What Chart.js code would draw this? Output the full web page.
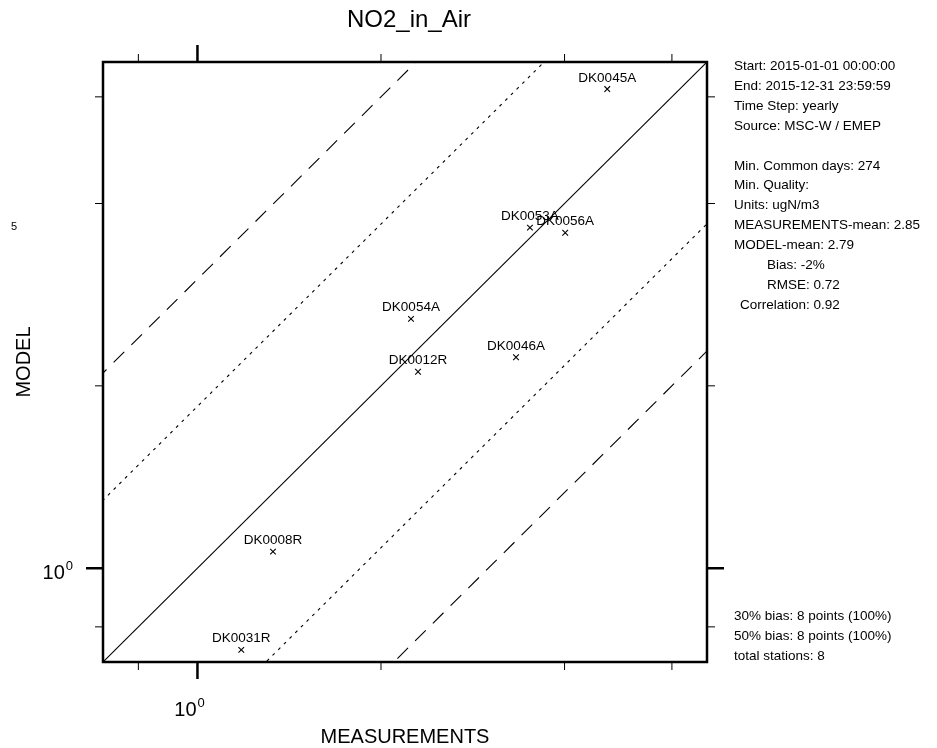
<!DOCTYPE html>
<html><head><meta charset="utf-8">
<script src="https://cdn.jsdelivr.net/npm/chart.js@4/dist/chart.umd.min.js"></script>
<style>html,body{margin:0;padding:0;background:#fff}#wrap{width:937px;height:748px;position:relative}</style>
</head><body><div id="wrap"><canvas id="c"></canvas></div>
<script>
// ---- data ----
const stations = ['DK0045A','DK0053A','DK0056A','DK0054A','DK0012R','DK0046A','DK0008R','DK0031R'];
const measurements = [4.70, 3.51, 4.01, 2.24, 2.30, 3.33, 1.33, 1.18];
const model = [6.18, 3.65, 3.58, 2.58, 2.11, 2.23, 1.065, 0.733];
const axisMin = 0.705, axisMax = 6.85;
const tickValues = [0.8, 1, 2, 4, 6];
const majorTicks = [1];
const refFactors = [3, 1.85, 1, 1/1.85, 1/3];
const refStyles = ['dashed', 'dotted', 'solid', 'dotted', 'dashed'];
const titleText = 'NO2_in_Air';
const xTitle = 'MEASUREMENTS';
const yTitle = 'MODEL';
const infoLines = [
  'Start: 2015-01-01 00:00:00',
  'End: 2015-12-31 23:59:59',
  'Time Step: yearly',
  'Source: MSC-W / EMEP',
  '',
  'Min. Common days: 274',
  'Min. Quality:',
  'Units: ugN/m3',
  'MEASUREMENTS-mean: 2.85',
  'MODEL-mean: 2.79',
  '       Bias: -2%',
  '       RMSE: 0.72',
  ' Correlation: 0.92'
];
const footLines = ['30% bias: 8 points (100%)', '50% bias: 8 points (100%)', 'total stations: 8'];

// ---- build ----
const FONT = '"Liberation Sans", Arial, Helvetica, sans-serif';
const dashMap = {dashed: [15, 10], dotted: [3, 5], solid: []};
const refDatasets = refFactors.map((f, i) => ({
  type: 'line',
  data: [{x: 0.05, y: 0.05 * f}, {x: 200, y: 200 * f}],
  borderColor: '#000',
  borderWidth: 1.1,
  borderDash: dashMap[refStyles[i]],
  pointRadius: 0,
  showLine: true,
  fill: false,
  tension: 0
}));
const pointDataset = {
  type: 'scatter',
  data: measurements.map((m, i) => ({x: m, y: model[i]})),
  pointStyle: 'crossRot',
  pointRadius: 4,
  borderColor: '#000',
  borderWidth: 1.1,
  backgroundColor: '#000'
};

const decorPlugin = {
  id: 'decor',
  afterDatasetsDraw(chart) {
    const ctx = chart.ctx;
    const meta = chart.getDatasetMeta(chart.data.datasets.length - 1);
    ctx.save();
    ctx.fillStyle = '#000';
    ctx.font = '13.5px ' + FONT;
    ctx.textAlign = 'center';
    ctx.textBaseline = 'alphabetic';
    meta.data.forEach((pt, i) => {
      ctx.fillText(stations[i], pt.x, pt.y - 7.5);
    });
    ctx.restore();
  },
  afterDraw(chart) {
    const ctx = chart.ctx;
    const a = chart.chartArea;
    const xs = chart.scales.x, ys = chart.scales.y;
    ctx.save();
    ctx.strokeStyle = '#000';
    // frame
    ctx.lineWidth = 2.5;
    ctx.strokeRect(a.left, a.top, a.right - a.left, a.bottom - a.top);
    // ticks
    tickValues.forEach(v => {
      const major = majorTicks.includes(v);
      const len = major ? 17 : 8;
      ctx.lineWidth = major ? 2.5 : 1;
      const px = xs.getPixelForValue(v);
      const py = ys.getPixelForValue(v);
      ctx.beginPath();
      ctx.moveTo(px, a.top); ctx.lineTo(px, a.top - len);
      ctx.moveTo(px, a.bottom); ctx.lineTo(px, a.bottom + len);
      ctx.moveTo(a.left, py); ctx.lineTo(a.left - len, py);
      ctx.moveTo(a.right, py); ctx.lineTo(a.right + len, py);
      ctx.stroke();
    });
    ctx.fillStyle = '#000';
    // tick labels 10^0
    majorTicks.forEach(v => {
      const exp = String(Math.round(Math.log10(v)));
      const px = xs.getPixelForValue(v);
      const py = ys.getPixelForValue(v);
      ctx.font = '20px ' + FONT;
      ctx.textBaseline = 'alphabetic';
      ctx.textAlign = 'center';
      ctx.fillText('10', px - 12, 716);
      const w = ctx.measureText('10').width;
      ctx.font = '13px ' + FONT;
      ctx.textAlign = 'left';
      ctx.fillText(exp, px - 12 + w / 2 + 1, 707);
      // y
      ctx.font = '13px ' + FONT;
      const we = ctx.measureText(exp).width;
      ctx.textAlign = 'left';
      ctx.fillText(exp, 73 - we, py + 2);
      ctx.font = '20px ' + FONT;
      ctx.textAlign = 'right';
      ctx.fillText('10', 72 - we, py + 11);
    });
    // stray label fragment at left
    ctx.font = '11px ' + FONT;
    ctx.textAlign = 'left';
    ctx.fillText('5', 11, 230);
    // title
    ctx.textAlign = 'center';
    ctx.font = '24px ' + FONT;
    ctx.fillText(titleText, 409, 27);
    // axis titles
    ctx.font = '20px ' + FONT;
    ctx.fillText(xTitle, (a.left + a.right) / 2, 743);
    ctx.save();
    ctx.translate(30, (a.top + a.bottom) / 2);
    ctx.rotate(-Math.PI / 2);
    ctx.textBaseline = 'alphabetic';
    ctx.fillText(yTitle, 0, 0);
    ctx.restore();
    // info text
    ctx.font = '13.5px ' + FONT;
    ctx.textAlign = 'left';
    ctx.textBaseline = 'alphabetic';
    infoLines.forEach((t, i) => {
      if (!t) return;
      const lead = t.length - t.trimStart().length;
      const indent = lead >= 5 ? 33 : (lead > 0 ? 6 : 0);
      ctx.fillText(t.trim(), 734 + indent, 70 + i * 19.9);
    });
    footLines.forEach((t, i) => {
      ctx.fillText(t, 734, 620 + i * 20);
    });
    ctx.restore();
  }
};

new Chart(document.getElementById('c'), {
  type: 'scatter',
  data: {datasets: [...refDatasets, pointDataset]},
  options: {
    responsive: true,
    maintainAspectRatio: false,
    animation: false,
    events: [],
    layout: {padding: {left: 103, top: 62, right: 230, bottom: 86}},
    plugins: {legend: {display: false}, tooltip: {enabled: false}, title: {display: false}},
    scales: {
      x: {type: 'logarithmic', min: axisMin, max: axisMax, display: false},
      y: {type: 'logarithmic', min: axisMin, max: axisMax, display: false}
    }
  },
  plugins: [decorPlugin]
});
</script>
</body></html>
